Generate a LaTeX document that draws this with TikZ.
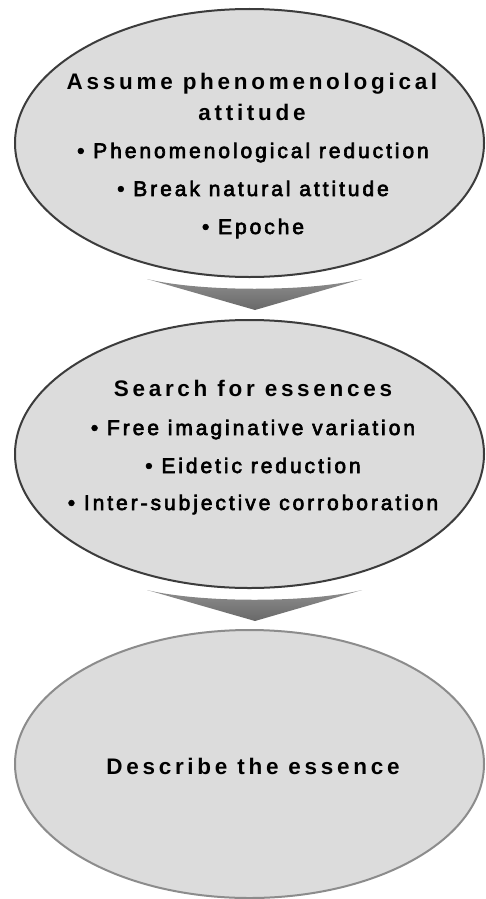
\documentclass[tikz,border=0pt]{standalone}
\usepackage{fontspec}
\setmainfont{Liberation Sans}
\newfontfamily\headfont[LetterSpace=16.5]{Liberation Sans}
\newfontfamily\itemfont[LetterSpace=14,FakeBold=3]{Liberation Sans}
\definecolor{bubblefill}{HTML}{DCDCDC}
\definecolor{rimdark}{HTML}{3C3C3C}
\definecolor{rimlight}{HTML}{8C8C8C}
\definecolor{chevtop}{HTML}{8E8E8E}
\definecolor{chevbot}{HTML}{686868}
\usetikzlibrary{shapes.geometric}
\tikzset{
  bubble/.style={ellipse,draw=rimdark,fill=bubblefill,line width=2pt,
    minimum width=469pt,minimum height=268pt,inner sep=0pt},
  head/.style={anchor=base,font=\headfont\bfseries\fontsize{22.5}{26}\selectfont},
  item/.style={anchor=base,font=\itemfont\fontsize{21}{25}\selectfont},
  chev/.style={top color=chevtop,bottom color=chevbot}
}
\begin{document}
\begin{tikzpicture}[x=1pt,y=-1pt]
  \useasboundingbox (0,0) rectangle (486,899);
  % the three stages
  \node[bubble] (ess1) at (249.5,143) {};
  \node[bubble] (ess2) at (249.5,454) {};
  \node[bubble,draw=rimlight] (ess3) at (249.5,764) {};
  % arrows between stages
  \foreach \y in {279,590}
    \shade[chev] (147,\y) .. controls (200,\y+13) and (309,\y+13) .. (362,\y)
      -- (255,\y+31) -- cycle;
  % stage 1
  \node[head] (h1a) at (252,89) {Assume phenomenological};
  \node[head] (h1b) at (252,120) {attitude};
  \foreach \y/\t [count=\i] in {
    158/Phenomenological reduction, 196/Break natural attitude,
    234/Epoche
  }
    \node[item] (a\i) at (253,\y) {\textbullet\ \t};
  % stage 2
  \node[head] (h2) at (253,396) {Search for essences};
  \foreach \y/\t [count=\i] in {
    435/Free imaginative variation, 473/Eidetic reduction,
    510/Inter-subjective corroboration
  }
    \node[item] (b\i) at (253,\y) {\textbullet\ \t};
  % stage 3
  \node[head] (h3) at (253,774) {Describe the essence};
\end{tikzpicture}
\end{document}
